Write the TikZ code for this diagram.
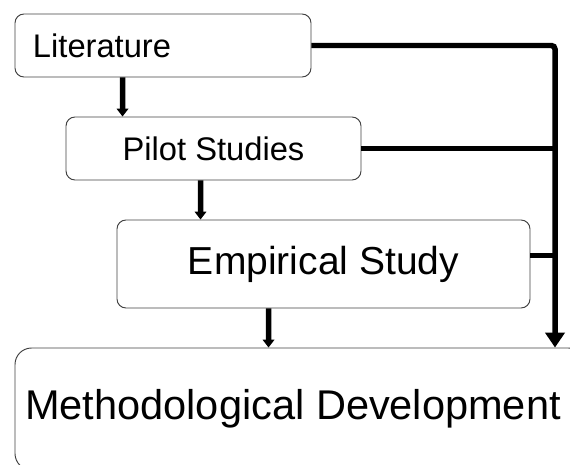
\documentclass[tikz,border=0pt]{standalone}
\usepackage{fontspec}
\setmainfont{Liberation Sans}
\usetikzlibrary{positioning,arrows.meta}

\begin{document}
\begin{tikzpicture}[
  box/.style={draw=black!75,line width=0.9pt,rounded corners=0.3cm,inner sep=0pt},
  flow/.style={line width=5.2pt,-{Triangle[length=0.26cm,width=0.38cm]}},
  bus/.style={line width=5.2pt,rounded corners=0.12cm}]
\useasboundingbox (0,0) rectangle (19,15.467);
\clip (0,0) rectangle (19,15.467);
\node[box,minimum width=9.867cm,minimum height=2.1cm,inner xsep=0.6cm,text width=8.667cm,align=left,font=\fontsize{31}{36}\selectfont] (lit) at (5.433,13.95) {Literature};
\node[box,minimum width=9.833cm,minimum height=2.1cm,font=\fontsize{31}{36}\selectfont] (pilot) at (7.117,10.517) {Pilot Studies};
\node[box,minimum width=13.767cm,minimum height=2.933cm,font=\fontsize{37}{42}\selectfont] (emp) at (10.783,6.667) {Empirical Study};
\node[box,rounded corners=0.55cm,minimum width=19cm,minimum height=4.067cm] (meth) at (10,1.833) {};
\node[font=\fontsize{39.4}{45}\selectfont,inner sep=0pt] (methtext) at ([xshift=-0.233cm]meth.center) {Methodological Development};
\coordinate (busx) at (18.5,0);
% feedback line on the right
\draw[bus,-{Triangle[length=0.5cm,width=0.64cm]}] (lit.east) -- (lit.east -| busx) -- (busx |- meth.north);
\draw[bus] (pilot.east) -- (pilot.east -| busx);
\draw[bus] ([yshift=0.28cm]emp.east) -- ([yshift=0.28cm]emp.east -| busx);
% steps
\draw[flow] ([xshift=3.6cm]lit.south west) -- ([xshift=1.9cm]pilot.north west);
\draw[flow] ([xshift=4.5cm]pilot.south west) -- ([xshift=2.8cm]emp.north west);
\draw[flow] ([xshift=5.067cm]emp.south west) -- ([xshift=8.467cm]meth.north west);
\end{tikzpicture}
\end{document}
